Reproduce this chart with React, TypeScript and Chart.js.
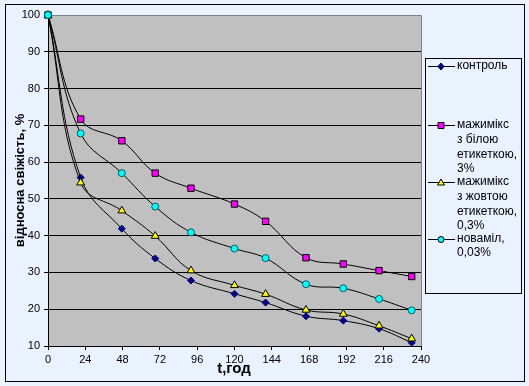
import React, { useEffect, useRef } from "react";
import { Chart, registerables } from "chart.js";

Chart.register(...registerables);

const hours = [0, 21, 47.5, 69, 92, 120, 140, 166, 190, 213, 234];
const control = [100, 55.8, 41.9, 33.8, 27.8, 24.2, 21.8, 18.1, 16.9, 14.7, 10.9];
const whiteLabel = [100, 71.7, 65.8, 57, 52.9, 48.6, 43.9, 34, 32.3, 30.5, 28.9];
const yellowLabel = [100, 54.4, 46.8, 39.9, 30.5, 26.5, 24.1, 19.8, 18.7, 15.5, 12];
const novamil = [100, 67.8, 57, 47.9, 40.9, 36.5, 33.9, 26.8, 25.7, 22.8, 19.7];

const seriesNames = [
  ["контроль"],
  ["мажимікс", "з білою", "етикеткою,", "3%"],
  ["мажимікс", "з жовтою", "етикеткою,", "0,3%"],
  ["новаміл,", "0,03%"],
];
const yTitle = "відносна свіжість, %";
const xTitle = "t,год";

const W = 529;
const H = 386;
const BG = "#EAF2FF";
const PLOT = "#C0C0C0";
const FONT = "'Liberation Sans', Arial, sans-serif";

function pts(ys: number[]) {
  return ys.map((y, i) => ({ x: hours[i], y }));
}

function drawMarker(ctx: CanvasRenderingContext2D, kind: string, x: number, y: number, fill: string, stroke: string) {
  ctx.save();
  ctx.fillStyle = fill;
  ctx.strokeStyle = stroke;
  ctx.lineWidth = 1;
  ctx.beginPath();
  if (kind === "diamond") {
    ctx.moveTo(x, y - 3.5);
    ctx.lineTo(x + 3, y);
    ctx.lineTo(x, y + 3.5);
    ctx.lineTo(x - 3, y);
    ctx.closePath();
  } else if (kind === "square") {
    ctx.rect(x - 3, y - 3, 6, 6);
  } else if (kind === "triangle") {
    ctx.moveTo(x, y - 3.5);
    ctx.lineTo(x + 3.5, y + 2.5);
    ctx.lineTo(x - 3.5, y + 2.5);
    ctx.closePath();
  } else {
    ctx.arc(x, y, 3, 0, Math.PI * 2);
  }
  ctx.fill();
  ctx.stroke();
  ctx.restore();
}

const chartDecor = {
  id: "chartDecor",
  beforeDraw(chart: any) {
    const ctx = chart.ctx as CanvasRenderingContext2D;
    const a = chart.chartArea;
    ctx.save();
    ctx.fillStyle = BG;
    ctx.fillRect(0, 0, W, H);
    ctx.strokeStyle = "#000";
    ctx.lineWidth = 1;
    ctx.strokeRect(5.5, 4.5, 519, 377);
    ctx.fillStyle = PLOT;
    ctx.fillRect(a.left, a.top, a.right - a.left, a.bottom - a.top);
    ctx.strokeStyle = "#808080";
    ctx.beginPath();
    ctx.moveTo(a.left, a.top + 0.5);
    ctx.lineTo(a.right + 0.5, a.top + 0.5);
    ctx.lineTo(a.right + 0.5, a.bottom);
    ctx.stroke();
    ctx.restore();
  },
  afterDraw(chart: any) {
    const ctx = chart.ctx as CanvasRenderingContext2D;
    const a = chart.chartArea;
    ctx.save();
    ctx.fillStyle = "#000";
    ctx.font = `bold 13px ${FONT}`;
    ctx.textAlign = "center";
    ctx.textBaseline = "middle";
    ctx.save();
    ctx.translate(20, (a.top + a.bottom) / 2);
    ctx.rotate(-Math.PI / 2);
    ctx.fillText(yTitle, 0, 0);
    ctx.restore();
    ctx.font = `bold 15px ${FONT}`;
    ctx.fillText(xTitle, 234, 369);

    ctx.strokeStyle = "#000";
    ctx.lineWidth = 1;
    ctx.strokeRect(425.5, 58.5, 96, 235);
    const starts = [66, 125, 182, 238.5];
    const markers = [
      ["diamond", "#000080", "#000080"],
      ["square", "#FF00FF", "#000000"],
      ["triangle", "#FFFF00", "#000000"],
      ["circle", "#00FFFF", "#000000"],
    ];
    ctx.font = `12px ${FONT}`;
    ctx.textAlign = "left";
    ctx.textBaseline = "middle";
    seriesNames.forEach((lines, i) => {
      const y0 = starts[i];
      ctx.strokeStyle = "#000";
      ctx.beginPath();
      ctx.moveTo(428, Math.round(y0) + 0.5);
      ctx.lineTo(455, Math.round(y0) + 0.5);
      ctx.stroke();
      drawMarker(ctx, markers[i][0], 441, Math.round(y0) + 0.5, markers[i][1], markers[i][2]);
      ctx.fillStyle = "#000";
      lines.forEach((t, j) => {
        ctx.fillText(t, 457, y0 + j * 14.6);
      });
    });
    ctx.restore();
  },
};

export default function App() {
  const ref = useRef<HTMLCanvasElement | null>(null);

  useEffect(() => {
    if (!ref.current) return;
    const common = {
      borderColor: "#000000",
      borderWidth: 1,
      showLine: true,
      tension: 0.4,
      fill: false,
      pointBorderWidth: 1,
      clip: false,
    };
    const chart = new Chart(ref.current, {
      type: "scatter",
      data: {
        datasets: [
          {
            ...common,
            label: seriesNames[0].join(" "),
            data: pts(control),
            pointStyle: "rectRot",
            pointRadius: 3.5,
            pointBackgroundColor: "#000080",
            pointBorderColor: "#000080",
            order: 3,
          },
          {
            ...common,
            label: seriesNames[1].join(" "),
            data: pts(whiteLabel),
            pointStyle: "rect",
            pointRadius: 4.5,
            pointBackgroundColor: "#FF00FF",
            pointBorderColor: "#000000",
            order: 2,
          },
          {
            ...common,
            label: seriesNames[2].join(" "),
            data: pts(yellowLabel),
            pointStyle: "triangle",
            pointRadius: 4.5,
            pointBackgroundColor: "#FFFF00",
            pointBorderColor: "#000000",
            order: 1,
          },
          {
            ...common,
            label: seriesNames[3].join(" "),
            data: pts(novamil),
            pointStyle: "circle",
            pointRadius: 3.5,
            pointBackgroundColor: "#00FFFF",
            pointBorderColor: "#006060",
            order: 0,
          },
        ] as any,
      },
      options: {
        responsive: false,
        animation: false,
        layout: { padding: { left: 0, top: 15, right: 108, bottom: 0 } },
        plugins: {
          legend: { display: false },
          tooltip: { enabled: false },
        },
        scales: {
          x: {
            type: "linear",
            min: 0,
            max: 240,
            ticks: {
              stepSize: 24,
              color: "#000",
              padding: 3,
              maxRotation: 0,
              font: { family: FONT, size: 11 },
            },
            grid: {
              drawOnChartArea: false,
              drawTicks: true,
              tickLength: 4,
              color: "#000",
            },
            border: { color: "#000", width: 1 },
            afterFit(scale: any) {
              scale.height = 40;
            },
          },
          y: {
            min: 10,
            max: 100,
            ticks: {
              stepSize: 10,
              color: "#000",
              padding: 4,
              font: { family: FONT, size: 11 },
            },
            grid: {
              color: (c: any) => (c.tick && c.tick.value === 100 ? "#808080" : "#000"),
              tickColor: "#000",
              tickLength: 4,
              lineWidth: 1,
            },
            border: { color: "#000", width: 1 },
            afterFit(scale: any) {
              scale.width = 48;
            },
          },
        },
      } as any,
      plugins: [chartDecor],
    });
    return () => chart.destroy();
  }, []);

  return (
    <div style={{ position: "fixed", left: 0, top: 0, width: W, height: H }}>
      <canvas ref={ref} width={W} height={H} style={{ width: W, height: H, display: "block" }} />
    </div>
  );
}
